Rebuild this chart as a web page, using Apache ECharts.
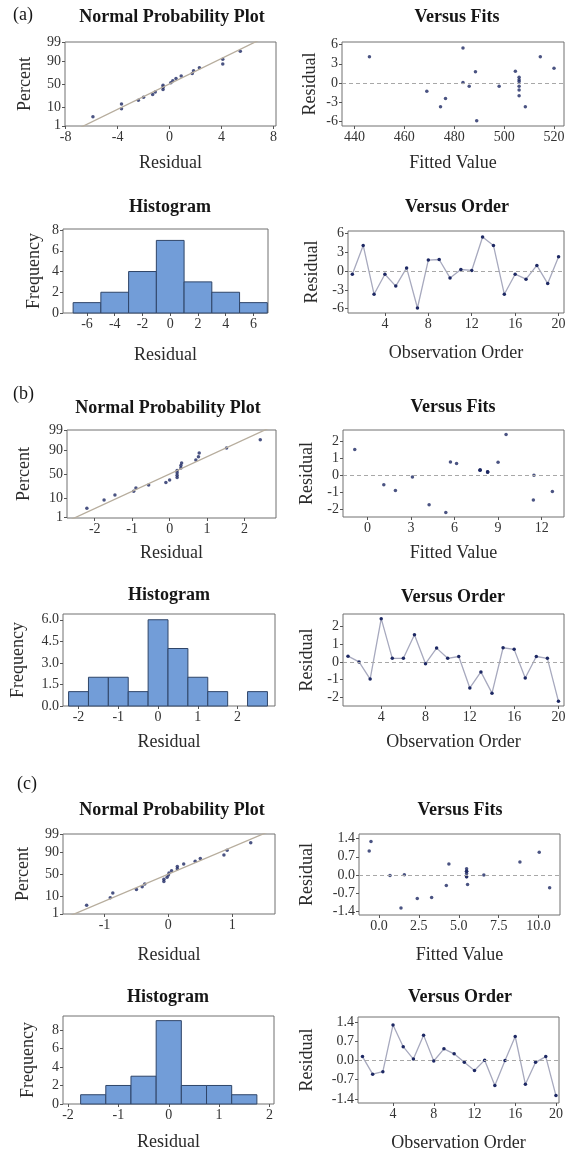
<!DOCTYPE html>
<html>
<head>
<meta charset="utf-8">
<script src="https://cdn.jsdelivr.net/npm/echarts@6/dist/echarts.min.js"></script>
<style>
  html, body { margin: 0; padding: 0; background: #fff; }
  #main { width: 573px; height: 1153px; }
</style>
</head>
<body>
<div id="main"></div>
<script>
// residuals in observation order
const resA = [-0.5, 4.1, -3.7, -0.5, -2.4, 0.5, -5.9, 1.75, 1.85, -1.1, 0.25, 0.1, 5.45, 4.1, -3.7, -0.5, -1.3, 0.9, -2.0, 2.3];
const resB = [0.32, 0.0, -0.96, 2.42, 0.2, 0.2, 1.52, -0.1, 0.77, 0.2, 0.3, -1.46, -0.56, -1.75, 0.79, 0.7, -0.9, 0.3, 0.2, -2.21];
const resC = [0.14, -0.5, -0.41, 1.29, 0.5, 0.05, 0.92, -0.02, 0.42, 0.24, -0.07, -0.37, 0.01, -0.91, 0.0, 0.87, -0.87, -0.07, 0.14, -1.28];

const fitA = [506, 446, 474.5, 486, 476.5, 506, 489, 488.5, 504.5, 506, 506, 483.5, 483.5, 514.5, 508.5, 498, 469, 506, 506, 520];
const fitB = [7.77, 11.47, 12.74, 9.55, 8.28, 8.28, -0.87, 3.1, 9.0, 8.28, 7.75, 11.43, 1.13, 4.25, 5.72, 6.14, 1.93, 7.76, 8.28, 5.4];
const fitC = [5.49, 10.69, 4.22, -0.5, 8.83, 5.49, -0.61, 0.69, 4.38, 5.49, 5.49, 5.55, 1.59, 2.4, 6.57, 10.04, 3.3, 5.49, 5.49, 1.38];

// normal probability plot: percent of each ranked residual
const nppPct = [3.4, 8.3, 13.2, 18.1, 23.0, 27.9, 32.8, 37.7, 42.6, 47.5, 52.5, 57.4, 62.3, 67.2, 72.1, 77.0, 81.9, 86.8, 91.7, 96.6];

// histograms: bin centres, counts, bin width
const histCentA = [-6, -4, -2, 0, 2, 4, 6];
const histCntA = [1, 2, 4, 7, 3, 2, 1];
const histWA = 2;
const histCentB = [-2, -1.5, -1, -0.5, 0, 0.5, 1, 1.5, 2, 2.5];
const histCntB = [1, 2, 2, 1, 6, 4, 2, 1, 0, 1];
const histWB = 0.5;
const histCentC = [-1.5, -1, -0.5, 0, 0.5, 1, 1.5];
const histCntC = [1, 2, 3, 9, 2, 2, 1];
const histWC = 0.5;

// tick labels
const pctTicks = [1, 10, 50, 90, 99];
const nppTicksA = [-8, -4, 0, 4, 8];
const nppTicksB = [-2, -1, 0, 1, 2];
const nppTicksC = [-1, 0, 1];
const resTicksA = [-6, -3, 0, 3, 6];
const resTicksB = [-2, -1, 0, 1, 2];
const resTicksC = [-1.4, -0.7, 0, 0.7, 1.4];
const fitTicksA = [440, 460, 480, 500, 520];
const fitTicksB = [0, 3, 6, 9, 12];
const fitTicksC = [0, 2.5, 5, 7.5, 10];
const orderTicks = [4, 8, 12, 16, 20];
const histTicksA = [-6, -4, -2, 0, 2, 4, 6];
const histTicksB = [-2, -1, 0, 1, 2];
const histTicksC = [-2, -1, 0, 1, 2];
const freqTicksA = [0, 2, 4, 6, 8];
const freqTicksB = [0, 1.5, 3, 4.5, 6];
const freqTicksC = [0, 2, 4, 6, 8];

const FONT = '"Liberation Serif", "Times New Roman", serif';
const DOT = '#1d2863';

// inverse normal cdf (Acklam)
function probit(p) {
  const a = [-3.969683028665376e+01, 2.209460984245205e+02, -2.759285104469687e+02, 1.383577518672690e+02, -3.066479806614716e+01, 2.506628277459239e+00];
  const b = [-5.447609879822406e+01, 1.615858368580409e+02, -1.556989798598866e+02, 6.680131188771972e+01, -1.328068155633870e+01];
  const c = [-7.784894002430293e-03, -3.223964580411365e-01, -2.400758277161838e+00, -2.549732539343734e+00, 4.374664141464968e+00, 2.938163982698783e+00];
  const d = [7.784695709041462e-03, 3.224671290700398e-01, 2.445134137142996e+00, 3.754408216728235e+00];
  const plow = 0.02425;
  let q, r;
  if (p < plow) {
    q = Math.sqrt(-2 * Math.log(p));
    return (((((c[0]*q+c[1])*q+c[2])*q+c[3])*q+c[4])*q+c[5]) / ((((d[0]*q+d[1])*q+d[2])*q+d[3])*q+1);
  }
  if (p > 1 - plow) {
    q = Math.sqrt(-2 * Math.log(1 - p));
    return -(((((c[0]*q+c[1])*q+c[2])*q+c[3])*q+c[4])*q+c[5]) / ((((d[0]*q+d[1])*q+d[2])*q+d[3])*q+1);
  }
  q = p - 0.5; r = q * q;
  return (((((a[0]*r+a[1])*r+a[2])*r+a[3])*r+a[4])*r+a[5])*q / (((((b[0]*r+b[1])*r+b[2])*r+b[3])*r+b[4])*r+1);
}
const zOf = pct => probit(pct / 100);
const pctZ = pctTicks.map(zOf);
const pctLabel = v => {
  let best = 0;
  pctZ.forEach((z, i) => { if (Math.abs(z - v) < Math.abs(pctZ[best] - v)) best = i; });
  return String(pctTicks[best]);
};
const fix1 = v => v.toFixed(1);

function meanSd(arr) {
  const m = arr.reduce((s, v) => s + v, 0) / arr.length;
  const v = arr.reduce((s, x) => s + (x - m) * (x - m), 0) / (arr.length - 1);
  return [m, Math.sqrt(v)];
}

const option = {
  animation: false,
  backgroundColor: '#fff',
  grid: [], xAxis: [], yAxis: [], series: [], graphic: []
};

function addGrid(box) {
  option.grid.push({
    left: box[0], top: box[1], width: box[2], height: box[3],
    show: true, borderColor: '#707070', borderWidth: 1, backgroundColor: 'transparent'
  });
  return option.grid.length - 1;
}

function makeAxis(gi, range, ticks, fmt, name, gap) {
  return {
    type: 'value', gridIndex: gi, min: range[0], max: range[1],
    name: name, nameLocation: 'middle', nameGap: gap,
    nameTextStyle: { fontFamily: FONT, fontSize: 18, color: '#2a2a2a' },
    axisLine: { show: false, onZero: false },
    axisTick: { show: true, customValues: ticks, length: 3, lineStyle: { color: '#555' } },
    axisLabel: { customValues: ticks, formatter: fmt || (v => String(v)), fontFamily: FONT, fontSize: 14, color: '#333', margin: 4 },
    splitLine: { show: false }
  };
}

function addText(text, x, y, bold, align) {
  option.graphic.push({
    type: 'text', x: x, y: y, silent: true,
    style: {
      text: text, fill: '#161616', fontFamily: FONT,
      fontSize: 18, fontWeight: bold ? 'bold' : 'normal',
      textAlign: align || 'center', textVerticalAlign: 'middle'
    }
  });
}

const zeroLine = {
  silent: true, symbol: 'none', label: { show: false },
  lineStyle: { color: '#a8a8a8', type: [4, 3], width: 1 },
  data: [{ yAxis: 0 }]
};

function panel(p) {
  addText(p.tag, p.tagPos[0], p.tagPos[1], false, 'left');

  // normal probability plot
  let g = addGrid(p.npp.box);
  addText('Normal Probability Plot', p.npp.title[0], p.npp.title[1], true);
  option.xAxis.push(makeAxis(g, p.npp.x, p.npp.ticks, null, 'Residual', p.npp.gap[0]));
  option.yAxis.push(makeAxis(g, [-2.34, 2.34], pctZ, pctLabel, 'Percent', p.npp.gap[1]));
  const sorted = p.res.slice().sort((u, v) => u - v);
  const ms = meanSd(p.res);
  option.series.push({
    type: 'line', xAxisIndex: g, yAxisIndex: g, symbol: 'none', silent: true, clip: true,
    lineStyle: { color: '#b7ad9d', width: 1.3 },
    data: [-2.6, 2.6].map(z => [ms[0] + ms[1] * z, z])
  });
  option.series.push({
    type: 'scatter', xAxisIndex: g, yAxisIndex: g, symbolSize: 3.5,
    itemStyle: { color: DOT },
    data: sorted.map((r, i) => [r, zOf(nppPct[i])])
  });

  // versus fits
  g = addGrid(p.vf.box);
  addText('Versus Fits', p.vf.title[0], p.vf.title[1], true);
  option.xAxis.push(makeAxis(g, p.vf.x, p.vf.ticks, p.vf.fmt, 'Fitted Value', p.vf.gap[0]));
  option.yAxis.push(makeAxis(g, p.resRange, p.resTicks, p.resFmt, 'Residual', p.vf.gap[1]));
  option.series.push({
    type: 'scatter', xAxisIndex: g, yAxisIndex: g, symbolSize: 3.5,
    itemStyle: { color: DOT }, markLine: zeroLine,
    data: p.res.map((r, i) => [p.fit[i], r])
  });

  // histogram
  g = addGrid(p.hist.box);
  addText('Histogram', p.hist.title[0], p.hist.title[1], true);
  option.xAxis.push(makeAxis(g, p.hist.x, p.hist.ticks, null, 'Residual', p.hist.gap[0]));
  option.yAxis.push(makeAxis(g, p.hist.y, p.hist.yticks, p.hist.yfmt, 'Frequency', p.hist.gap[1]));
  const bw = p.hist.w;
  option.series.push({
    type: 'custom', xAxisIndex: g, yAxisIndex: g, encode: { x: 0, y: 1 },
    renderItem: (params, api) => {
      const c = api.value(0), n = api.value(1);
      if (!n) return null;
      const p0 = api.coord([c - bw / 2, n]);
      const p1 = api.coord([c + bw / 2, 0]);
      return {
        type: 'rect',
        shape: { x: p0[0], y: p0[1], width: p1[0] - p0[0], height: p1[1] - p0[1] },
        style: { fill: '#729dd8', stroke: '#2f4568', lineWidth: 1 }
      };
    },
    data: p.hist.cent.map((c, i) => [c, p.hist.cnt[i]])
  });

  // versus order
  g = addGrid(p.vo.box);
  addText('Versus Order', p.vo.title[0], p.vo.title[1], true);
  option.xAxis.push(makeAxis(g, p.vo.x, orderTicks, null, 'Observation Order', p.vo.gap[0]));
  option.yAxis.push(makeAxis(g, p.resRange, p.resTicks, p.resFmt, 'Residual', p.vo.gap[1]));
  option.series.push({
    type: 'line', xAxisIndex: g, yAxisIndex: g, symbol: 'circle', symbolSize: 3.5,
    itemStyle: { color: DOT }, lineStyle: { color: '#a7a9be', width: 1.3 },
    markLine: zeroLine,
    data: p.res.map((r, i) => [i + 1, r])
  });
}

panel({
  tag: '(a)', tagPos: [13, 15], res: resA, fit: fitA,
  resRange: [-6.7, 6.4], resTicks: resTicksA, resFmt: null,
  npp: { box: [65, 42, 211, 84], title: [172, 17], x: [-8.05, 8.2], ticks: nppTicksA, gap: [28, 31] },
  vf: { box: [342, 42, 222, 84], title: [457, 17], x: [435, 524], ticks: fitTicksA, fmt: null, gap: [28, 23] },
  hist: { box: [63, 229, 205, 84], title: [170, 207], x: [-7.73, 7.05], ticks: histTicksA, y: [0, 8.1], yticks: freqTicksA, yfmt: null,
          cent: histCentA, cnt: histCntA, w: histWA, gap: [33, 20] },
  vo: { box: [348, 231, 216, 82], title: [457, 207], x: [0.6, 20.5], gap: [31, 27] }
});

panel({
  tag: '(b)', tagPos: [13, 394], res: resB, fit: fitB,
  resRange: [-2.47, 2.68], resTicks: resTicksB, resFmt: null,
  npp: { box: [67, 430, 209, 88], title: [168, 408], x: [-2.74, 2.84], ticks: nppTicksB, gap: [26, 34] },
  vf: { box: [343, 430, 221, 87], title: [453, 407], x: [-1.68, 13.54], ticks: fitTicksB, fmt: null, gap: [27, 27] },
  hist: { box: [63, 614, 212, 92], title: [169, 595], x: [-2.39, 2.94], ticks: histTicksB, y: [0, 6.4], yticks: freqTicksB, yfmt: fix1,
          cent: histCentB, cnt: histCntB, w: histWB, gap: [27, 36] },
  vo: { box: [343, 614, 221, 92], title: [453, 597], x: [0.55, 20.5], gap: [27, 27] }
});

panel({
  tag: '(c)', tagPos: [17, 784], res: resC, fit: fitC,
  resRange: [-1.55, 1.58], resTicks: resTicksC, resFmt: fix1,
  npp: { box: [63, 834, 212, 80], title: [172, 810], x: [-1.65, 1.67], ticks: nppTicksC, gap: [32, 31] },
  vf: { box: [359, 834, 201, 81], title: [460, 810], x: [-1.25, 11.34], ticks: fitTicksC, fmt: fix1, gap: [31, 43] },
  hist: { box: [63, 1016, 211, 88], title: [168, 997], x: [-2.1, 2.09], ticks: histTicksC, y: [0, 9.5], yticks: freqTicksC, yfmt: null,
          cent: histCentC, cnt: histCntC, w: histWC, gap: [29, 26] },
  vo: { box: [358, 1017, 201, 86], title: [460, 997], x: [0.56, 20.3], gap: [31, 42] }
});

const chart = echarts.init(document.getElementById('main'), null, { renderer: 'canvas' });
chart.setOption(option);
</script>
</body>
</html>
